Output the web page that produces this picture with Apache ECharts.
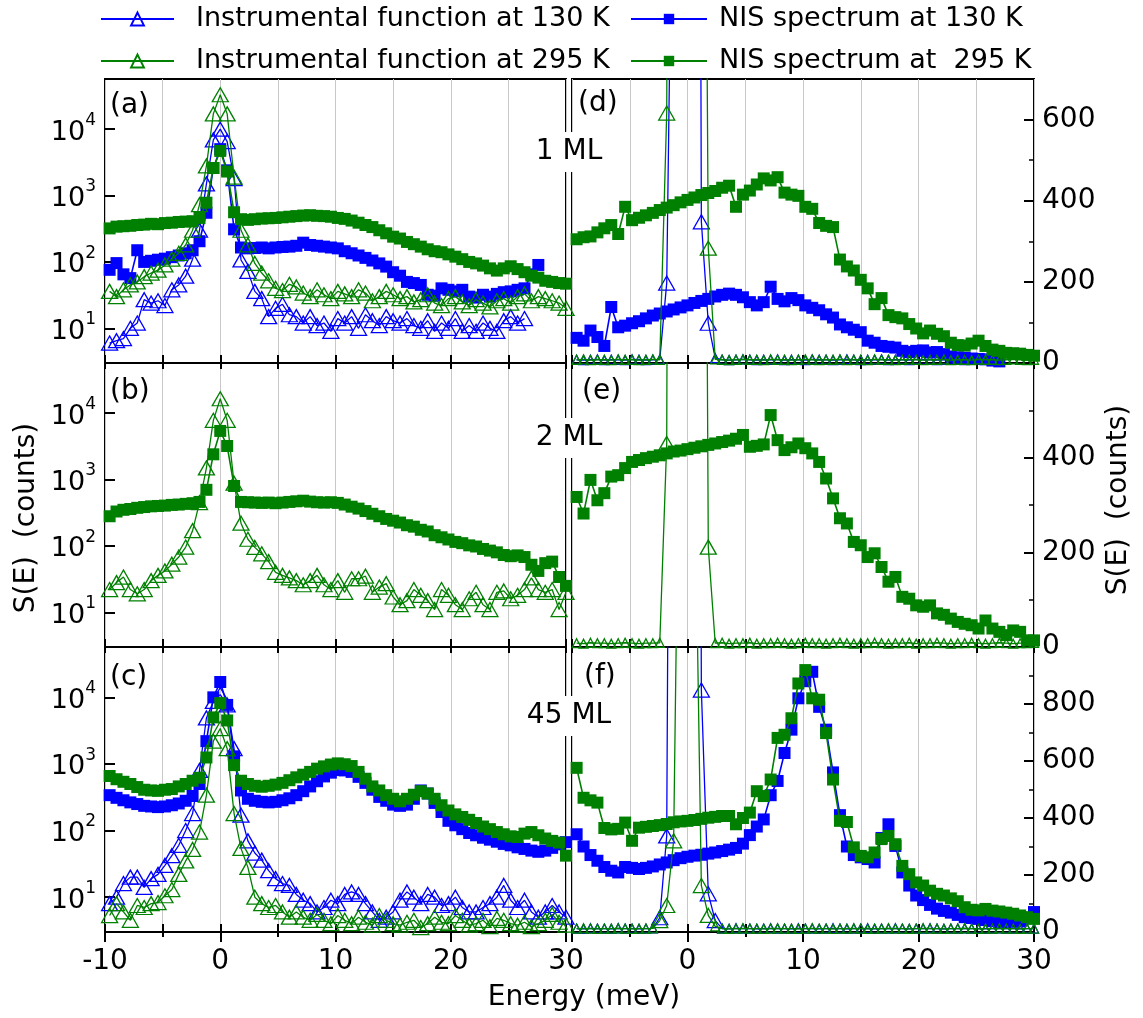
<!DOCTYPE html>
<html>
<head>
<meta charset="utf-8">
<title>NIS spectra of 1, 2 and 45 ML films</title>
<script src="https://cdn.jsdelivr.net/npm/echarts@6.0.0/dist/echarts.min.js"></script>
<style>
  html, body { margin: 0; padding: 0; background: #fff; }
  #chart { width: 1143px; height: 1018px; }
</style>
</head>
<body>
<div id="chart"></div>
<script>
// Energy transfer grid (meV) shared by every spectrum
const energy = [-9.6, -9.0, -8.4, -7.8, -7.2, -6.6, -6.0, -5.4, -4.8, -4.2,
  -3.6, -3.0, -2.4, -1.8, -1.2, -0.6, 0, 0.6, 1.2, 1.8,
  2.4, 3.0, 3.6, 4.2, 4.8, 5.4, 6.0, 6.6, 7.2, 7.8,
  8.4, 9.0, 9.6, 10.2, 10.8, 11.4, 12.0, 12.6, 13.2, 13.8,
  14.4, 15.0, 15.6, 16.2, 16.8, 17.4, 18.0, 18.6, 19.2, 19.8,
  20.4, 21.0, 21.6, 22.2, 22.8, 23.4, 24.0, 24.6, 25.2, 25.8,
  26.4, 27.0, 27.6, 28.2, 28.8, 29.4, 30.0];

// ---- 1 ML, measured spectra including the elastic line (counts) ----
const ml1Inst130 = [6, 6.5, 7, 10, 12, 27, 24, 26, 22, 38,
  45, 61, 110, 300, 1500, 6900, 10000, 6500, 1800, 107,
  72, 36, 28, 15, 20, 23, 16, 15, 12, 15,
  11, 12, 9, 14, 12, 15, 10, 16, 13, 11,
  15, 13, 12, 14, 11, 10, 13, 9, 12, 10,
  14, 9, 11, 9, 12, 10, 9, 13, 15, 12,
  14];
const ml1Nis130 = [76, 96, 65, 57, 150, 100, 104, 108, 112, 118,
  125, 135, 150, 205, 550, 2600, 5000, 2400, 310, 165,
  160, 162, 165, 160, 165, 168, 170, 175, 195, 180,
  175, 170, 165, 160, 145, 135, 125, 115, 105, 95,
  85, 70, 62, 50, 48, 45, 32, 31, 40, 38,
  36, 38, 30, 29, 32, 30, 33, 35, 36, 38,
  40, 65, 90];
const ml1Inst295 = [36, 30, 38, 45, 50, 60, 68, 75, 90, 110,
  135, 180, 300, 730, 2800, 17000, 33000, 17000, 1900, 300,
  180, 95, 68, 52, 40, 37, 46, 42, 34, 30,
  38, 32, 28, 36, 33, 30, 38, 34, 26, 30,
  36, 32, 28, 30, 25, 27, 32, 24, 22, 28,
  30, 25, 22, 27, 24, 21, 26, 28, 24, 30,
  33, 26, 30, 28, 26, 24, 20];
const ml1Nis295 = [320, 340, 345, 350, 360, 365, 375, 370, 385, 390,
  400, 405, 410, 460, 780, 2600, 4700, 2300, 560, 440,
  430, 440, 450, 455, 460, 470, 480, 490, 500, 505,
  495, 490, 480, 460, 445, 420, 390, 360, 335, 300,
  270, 240, 225, 200, 185, 170, 155, 145, 140, 130,
  120, 110, 100, 95, 88, 80, 74, 80, 86, 78,
  70, 62, 58, 52, 50, 48, 47];

// ---- 2 ML, measured spectra ----
const ml2Inst295 = [22, 28, 34, 22, 19, 22, 30, 36, 42, 53,
  68, 96, 170, 450, 1500, 7800, 16500, 7800, 880, 220,
  126, 95, 76, 58, 40, 36, 33, 30, 26, 30,
  36, 26, 22, 30, 20, 32, 32, 35, 20, 24,
  27, 17, 13, 15, 22, 18, 15, 11, 22, 18,
  13, 11, 16, 20, 13, 11, 20, 21, 16, 18,
  22, 33, 22, 20, 22, 11, 20];
const ml2Nis295 = [280, 330, 350, 360, 375, 385, 395, 400, 405, 415,
  420, 430, 440, 460, 700, 2400, 5400, 3200, 800, 460,
  455, 450, 445, 450, 440, 450, 460, 470, 480, 465,
  455, 450, 455, 445, 420, 390, 365, 335, 305, 280,
  255, 240, 225, 205, 195, 175, 165, 145, 135, 125,
  115, 110, 102, 98, 90, 85, 80, 73, 70, 72,
  68, 52, 42, 55, 58, 34, 25];

// ---- 45 ML, measured spectra ----
const ml45Inst130 = [8, 10, 16, 20, 20, 14, 19, 22, 30, 42,
  60, 100, 180, 800, 4900, 8700, 11000, 7700, 1700, 170,
  70, 46, 36, 25, 19, 16, 15, 11, 9, 8,
  6, 7, 9, 8, 11, 12, 11, 8, 6, 4.5,
  5, 6, 9, 12, 10, 8, 11, 10, 7.5, 8,
  10, 7, 6, 6, 7, 8, 10, 15, 9, 7,
  9, 6, 5, 6, 7.5, 6, 5];
const ml45Nis130 = [340, 310, 285, 265, 250, 235, 230, 225, 230, 240,
  255, 280, 330, 500, 2200, 10000, 17000, 7700, 1300, 400,
  300, 280, 270, 265, 270, 285, 305, 340, 390, 460,
  550, 650, 740, 810, 800, 760, 640, 520, 410, 320,
  280, 245, 235, 245, 300, 400, 360, 260, 190, 140,
  120, 105, 92, 85, 78, 73, 68, 63, 60, 56,
  53, 50, 48, 50, 55, 62, 67];
const ml45Inst295 = [5.3, 8, 6, 4.5, 7.5, 7, 8, 8.3, 10.5, 13,
  22, 35, 52, 95, 340, 2200, 3400, 1700, 180, 54,
  28, 10, 8, 7, 7.5, 6, 5, 6, 5, 4.5,
  5.5, 4.5, 4, 5.3, 4.5, 4, 5, 4.2, 3.8, 5.3,
  4.5, 4, 3.8, 4.2, 4.5, 3.5, 4, 5, 4.2, 4,
  5.3, 4.5, 3.8, 4, 4.5, 3.6, 4.8, 4.5, 4, 3.8,
  4.2, 3.6, 4, 4.5, 5.5, 4.2, 3.8];
const ml45Nis295 = [660, 590, 540, 500, 450, 410, 400, 395, 410, 420,
  460, 500, 560, 620, 1250, 5000, 8200, 4500, 960, 560,
  500, 470, 455, 470, 490, 520, 570, 630, 690, 760,
  850, 920, 980, 1020, 990, 930, 760, 600, 460, 400,
  340, 300, 275, 300, 345, 390, 360, 300, 240, 200,
  175, 160, 145, 130, 115, 105, 95, 88, 82, 80,
  90, 95, 85, 76, 70, 66, 42];

// ---- 1 ML, inelastic part (elastic line removed) on a linear scale ----
const ml1Inst130R = [8, 7, 8, 9, 7, 8, 8, 7, 9, 8,
  7, 8, 9, 197, 1500, 6500, 10000, 6000, 348, 98,
  12, 8, 7, 8, 9, 8, 7, 8, 8, 9,
  7, 8, 8, 7, 9, 8, 8, 7, 8, 9,
  8, 7, 8, 8, 9, 7, 8, 8, 7, 9,
  8, 8, 7, 8, 9, 8, 7, 8, 8, 9,
  8];
const ml1Nis130R = [62, 55, 80, 64, 42, 138, 88, 92, 98, 103,
  110, 117, 122, 127, 132, 137, 142, 148, 153, 158,
  164, 168, 171, 168, 162, 150, 142, 150, 188, 158,
  152, 160, 155, 142, 136, 130, 120, 112, 95, 88,
  82, 76, 55, 50, 42, 40, 38, 30, 27, 30,
  31, 26, 27, 22, 16, 14, 13, 11, 10, 9,
  6, 4];
const ml1Inst295R = [8, 9, 7, 8, 8, 7, 9, 8, 8, 7,
  8, 9, 8, 616, 5000, 20000, 33000, 20000, 3000, 283,
  9, 8, 7, 8, 9, 8, 8, 7, 9, 8,
  8, 7, 8, 9, 8, 7, 8, 8, 9, 7,
  8, 8, 7, 9, 8, 8, 7, 8, 9, 8,
  7, 8, 8, 9, 7, 8, 8, 7, 9, 8,
  8, 7, 8, 9, 8, 7, 8];
const ml1Nis295R = [305, 310, 312, 322, 332, 340, 318, 385, 352, 358,
  364, 370, 377, 383, 389, 396, 402, 408, 414, 419,
  424, 432, 437, 385, 415, 425, 440, 455, 450, 458,
  420, 415, 412, 385, 380, 345, 338, 335, 255, 238,
  228, 205, 184, 145, 160, 118, 113, 110, 96, 85,
  73, 80, 72, 66, 50, 44, 43, 48, 55, 42,
  33, 30, 25, 24, 23, 20, 18];

// ---- 2 ML, inelastic part ----
const ml2Inst295R = [8, 7, 9, 8, 8, 7, 8, 9, 8, 7,
  8, 8, 9, 430, 5000, 16000, 30000, 16000, 3000, 211,
  8, 9, 7, 8, 8, 9, 7, 8, 8, 9,
  8, 7, 8, 9, 8, 8, 7, 8, 9, 8,
  7, 8, 8, 9, 8, 7, 8, 8, 9, 7,
  8, 8, 9, 8, 7, 8, 8, 9, 8, 7,
  8, 9, 8, 7, 8, 8, 9];
const ml2Nis295R = [317, 282, 353, 310, 325, 360, 363, 378, 391, 395,
  399, 402, 405, 409, 413, 415, 418, 421, 424, 427,
  430, 433, 436, 440, 448, 423, 425, 428, 490, 437,
  416, 422, 430, 420, 409, 391, 356, 314, 272, 261,
  222, 215, 190, 198, 169, 138, 148, 106, 102, 88,
  85, 88, 71, 68, 60, 53, 49, 46, 39, 56,
  39, 32, 25, 35, 32, 14, 14];

// ---- 45 ML, inelastic part ----
const ml45Inst130R = [12, 11, 13, 12, 12, 11, 13, 12, 12, 11,
  12, 13, 50, 337, 5000, 9000, 11000, 8000, 849, 134,
  40, 12, 11, 13, 12, 12, 11, 12, 13, 12,
  12, 11, 13, 12, 12, 11, 12, 13, 12, 11,
  12, 12, 13, 11, 12, 12, 13, 12, 11, 12,
  12, 13, 12, 11, 12, 12, 13, 12, 12, 11,
  12, 13, 12, 12, 11, 12, 12];
const ml45Nis130R = [343, 300, 270, 250, 228, 215, 209, 228, 225, 221,
  225, 230, 237, 244, 252, 259, 264, 268, 271, 275,
  279, 284, 289, 295, 310, 340, 370, 395, 480, 530,
  628, 710, 820, 880, 913, 790, 710, 560, 410, 300,
  270, 262, 256, 244, 330, 378, 302, 209, 163, 128,
  112, 95, 82, 74, 68, 60, 52, 49, 46, 42,
  38, 35, 35, 36, 37, 50, 70];
const ml45Inst295R = [12, 13, 12, 11, 12, 12, 13, 12, 11, 12,
  12, 13, 40, 93, 320, 2200, 3400, 1700, 163, 58,
  20, 12, 11, 12, 13, 12, 12, 11, 12, 13,
  12, 12, 11, 12, 13, 12, 12, 11, 12, 12,
  13, 12, 11, 12, 12, 13, 12, 12, 11, 12,
  13, 12, 12, 11, 12, 12, 13, 12, 11, 12,
  12, 13, 12, 12, 11, 12, 12];
const ml45Nis295R = [576, 471, 462, 454, 365, 360, 362, 384, 320, 366,
  369, 372, 375, 379, 385, 388, 390, 393, 397, 401,
  404, 407, 407, 378, 400, 419, 494, 477, 535, 681,
  692, 750, 872, 919, 820, 815, 698, 535, 390, 386,
  297, 267, 262, 279, 326, 337, 308, 232, 203, 174,
  163, 145, 134, 128, 118, 108, 87, 78, 76, 81,
  75, 72, 68, 64, 58, 52, 46];

// Axis ranges of the linear panels and their highest labelled value
const linearMax = [700, 600, 1000];
const linearLabelTop = [600, 400, 800];
const logMin = 3;
const logMax = 57000;

const FONT = '"DejaVu Sans", sans-serif';
const BLUE = '#0000ff';
const GREEN = '#008000';

const KIND = {
  inst130: { name: 'Instrumental function at 130 K', color: BLUE, open: true },
  nis130: { name: 'NIS spectrum at 130 K', color: BLUE, open: false },
  inst295: { name: 'Instrumental function at 295 K', color: GREEN, open: true },
  nis295: { name: 'NIS spectrum at  295 K', color: GREEN, open: false }
};

// grid order: (a) (b) (c) log column, then (d) (e) (f) linear column
const panelSeries = [
  [['inst130', ml1Inst130], ['nis130', ml1Nis130], ['inst295', ml1Inst295], ['nis295', ml1Nis295]],
  [['inst295', ml2Inst295], ['nis295', ml2Nis295]],
  [['inst130', ml45Inst130], ['nis130', ml45Nis130], ['inst295', ml45Inst295], ['nis295', ml45Nis295]],
  [['inst130', ml1Inst130R], ['nis130', ml1Nis130R], ['inst295', ml1Inst295R], ['nis295', ml1Nis295R]],
  [['inst295', ml2Inst295R], ['nis295', ml2Nis295R]],
  [['inst130', ml45Inst130R], ['nis130', ml45Nis130R], ['inst295', ml45Inst295R], ['nis295', ml45Nis295R]]
];

const gridBoxes = [
  { left: 105, top: 79, width: 461, height: 284 },
  { left: 105, top: 363, width: 461, height: 284 },
  { left: 105, top: 647, width: 461, height: 285 },
  { left: 572, top: 79, width: 462, height: 284 },
  { left: 572, top: 363, width: 462, height: 284 },
  { left: 572, top: 647, width: 462, height: 285 }
];

const grid = gridBoxes.map(b => Object.assign({
  show: true, borderColor: '#000', borderWidth: 2,
  backgroundColor: 'transparent', containLabel: false, outerBoundsMode: 'none'
}, b));

const series = [];
panelSeries.forEach((list, gi) => {
  const linear = gi >= 3;
  list.forEach(([kind, values], k) => {
    const s = KIND[kind];
    series.push({
      type: 'line',
      name: s.name,
      xAxisIndex: gi,
      yAxisIndex: gi,
      data: values.map((v, i) => [energy[i], v]),
      symbol: s.open ? 'triangle' : 'rect',
      symbolSize: s.open
        ? (linear ? (d => (d[1] < 25 ? 9 : [16, 14])) : [16, 14])
        : 12,
      showAllSymbol: true,
      clip: true,
      silent: true,
      lineStyle: { color: s.color, width: s.open ? 1.3 : 1.6 },
      itemStyle: s.open
        ? { color: 'rgba(255,255,255,0)', borderColor: s.color, borderWidth: 1.3 }
        : { color: s.color, borderWidth: 0 },
      emphasis: { disabled: true },
      z: 2 + k
    });
  });
});

const tickLine = w => ({ color: '#000', width: w });
const labelText = { fontFamily: FONT, fontSize: 28, color: '#000' };
const noLine = { show: false, onZero: false };

// x axes: one per panel carrying grid lines and inner ticks
const xAxis = [];
for (let gi = 0; gi < 6; gi++) {
  const bottomRow = gi === 2 || gi === 5;
  const rightCol = gi >= 3;
  xAxis.push({
    type: 'value', gridIndex: gi, position: 'bottom',
    min: -10, max: 30, interval: 5,
    axisLine: noLine,
    axisTick: { show: true, inside: true, length: 8, lineStyle: tickLine(2) },
    axisLabel: Object.assign({
      show: bottomRow, margin: 16,
      formatter: v => (v % 10 === 0 && !(rightCol && v === -10)) ? String(v) : ''
    }, labelText),
    splitLine: { show: true, lineStyle: { color: '#c8c8c8', width: 1 } }
  });
}
// inner ticks along the shared borders
[1, 2, 4, 5].forEach(gi => {
  xAxis.push({
    type: 'value', gridIndex: gi, position: 'top',
    min: -10, max: 30, interval: 5,
    axisLine: noLine,
    axisTick: { show: true, inside: true, length: 6, lineStyle: tickLine(2) },
    axisLabel: { show: false },
    splitLine: { show: false }
  });
});
// outer ticks under the bottom panels
[2, 5].forEach(gi => {
  xAxis.push({
    type: 'value', gridIndex: gi, position: 'bottom',
    min: -10, max: 30, interval: 10,
    axisLine: noLine,
    axisTick: { show: true, inside: false, length: 10, lineStyle: tickLine(2) },
    minorTick: { show: true, splitNumber: 2, length: 5, lineStyle: tickLine(2) },
    axisLabel: { show: false },
    splitLine: { show: false }
  });
});

function decadeLabel(v) {
  const p = Math.log10(v);
  const r = Math.round(p);
  return Math.abs(p - r) < 1e-6 ? '{b|10}{s|' + r + '}' : '';
}

const yAxis = [];
for (let gi = 0; gi < 3; gi++) {
  yAxis.push({
    type: 'log', logBase: 10, gridIndex: gi, position: 'left',
    min: logMin, max: logMax,
    axisLine: noLine,
    axisTick: { show: true, inside: true, length: 10, lineStyle: tickLine(2) },
    minorTick: { show: false },
    splitLine: { show: false },
    axisLabel: {
      margin: 9,
      formatter: decadeLabel,
      rich: {
        b: { fontFamily: FONT, fontSize: 27, color: '#000', lineHeight: 34, verticalAlign: 'bottom' },
        s: { fontFamily: FONT, fontSize: 17, color: '#000', lineHeight: 18, verticalAlign: 'top' }
      }
    }
  });
}
for (let j = 0; j < 3; j++) {
  const top = linearLabelTop[j];
  yAxis.push({
    type: 'value', gridIndex: 3 + j, position: 'right',
    min: 0, max: linearMax[j], interval: 100,
    axisLine: noLine,
    axisTick: { show: true, inside: true, length: 5, lineStyle: tickLine(1.5) },
    splitLine: { show: false },
    axisLabel: Object.assign({
      margin: 8,
      formatter: v => (v % 200 === 0 && v <= top) ? String(v) : ''
    }, labelText)
  });
}
// longer ticks at the labelled values of the linear panels
for (let j = 0; j < 3; j++) {
  yAxis.push({
    type: 'value', gridIndex: 3 + j, position: 'right',
    min: 0, max: linearMax[j], interval: 200,
    axisLine: noLine,
    axisTick: { show: true, inside: true, length: 10, lineStyle: tickLine(2) },
    axisLabel: { show: false },
    splitLine: { show: false }
  });
}

const legendText = { fontFamily: FONT, fontSize: 27, color: '#000', lineHeight: 30 };
function legendItem(kind, left, top, width, height, gap) {
  return {
    data: [KIND[kind].name], left, top, padding: 0, itemGap: 0,
    itemWidth: width, itemHeight: height, selectedMode: false,
    lineStyle: { width: 2 },
    textStyle: Object.assign({ padding: [0, 0, 0, gap] }, legendText)
  };
}
const legend = [
  legendItem('inst130', 100, 4, 73, 16, 17),
  legendItem('nis130', 630, 4, 76, 13, 7),
  legendItem('inst295', 100, 46, 73, 16, 17),
  legendItem('nis295', 630, 46, 76, 13, 7)
];

const font28 = '28px ' + FONT;
function plainText(text, x, y) {
  return {
    type: 'text', x, y, z: 50,
    style: { text, font: font28, fill: '#000', align: 'left', verticalAlign: 'middle' }
  };
}
function boxedText(text, x, y) {
  return {
    type: 'text', x, y, z: 100,
    style: {
      text, font: font28, fill: '#000', align: 'center', verticalAlign: 'middle',
      backgroundColor: '#fff', padding: [6, 5]
    }
  };
}

const graphic = [
  plainText('(a)', 110, 106),
  plainText('(b)', 110, 392),
  plainText('(c)', 110, 678),
  plainText('(d)', 578, 104),
  plainText('(e)', 582, 392),
  plainText('(f)', 584, 677),
  boxedText('1 ML', 569, 152),
  boxedText('2 ML', 569, 438),
  boxedText('45 ML', 569, 716),
  {
    type: 'text', x: 584, y: 998, z: 50,
    style: { text: 'Energy (meV)', font: font28, fill: '#000', align: 'center', verticalAlign: 'middle' }
  },
  {
    type: 'text', x: 27, y: 518, rotation: Math.PI / 2, z: 50,
    style: { text: 'S(E)  (counts)', font: font28, fill: '#000', align: 'center', verticalAlign: 'middle' }
  },
  {
    type: 'text', x: 1119, y: 500, rotation: Math.PI / 2, z: 50,
    style: { text: 'S(E)  (counts)', font: font28, fill: '#000', align: 'center', verticalAlign: 'middle' }
  }
];

const chart = echarts.init(document.getElementById('chart'), null, { renderer: 'canvas' });
chart.setOption({
  backgroundColor: '#fff',
  animation: false,
  textStyle: { fontFamily: FONT },
  legend,
  grid,
  xAxis,
  yAxis,
  series,
  graphic
});
</script>
</body>
</html>
